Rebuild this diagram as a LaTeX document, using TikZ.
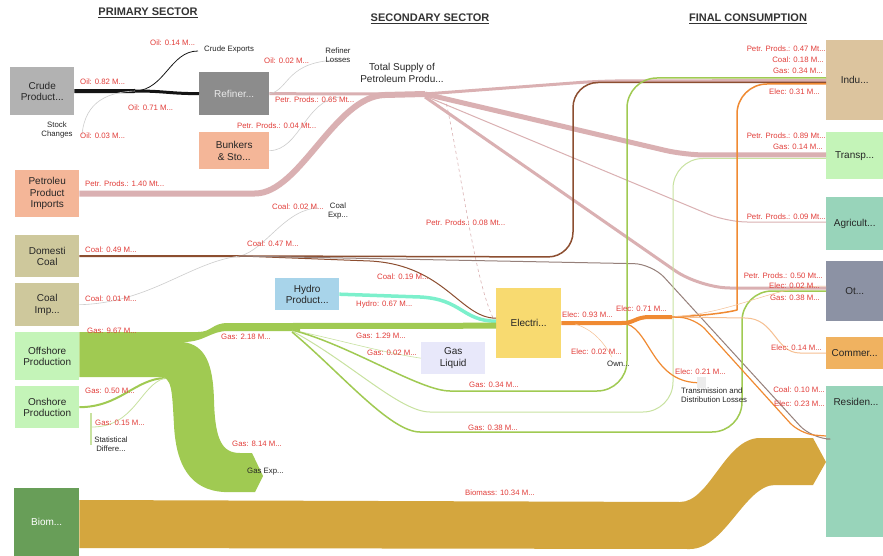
\documentclass[tikz,border=0pt]{standalone}
\usepackage{fontspec}
\setmainfont{Liberation Sans}
\usetikzlibrary{calc,positioning}

\definecolor{flowred}{RGB}{226,62,58}
\definecolor{crudegray}{RGB}{178,178,178}
\definecolor{refgray}{RGB}{140,140,140}
\definecolor{salmon}{RGB}{244,182,152}
\definecolor{coalbox}{RGB}{206,200,156}
\definecolor{gasbox}{RGB}{196,244,184}
\definecolor{biombox}{RGB}{104,158,88}
\definecolor{hydrobox}{RGB}{168,212,234}
\definecolor{elecbox}{RGB}{248,218,112}
\definecolor{liqbox}{RGB}{232,232,250}
\definecolor{indubox}{RGB}{220,196,158}
\definecolor{agribox}{RGB}{152,212,186}
\definecolor{othbox}{RGB}{140,146,164}
\definecolor{commbox}{RGB}{240,178,96}
\definecolor{oilblack}{RGB}{20,20,20}
\definecolor{petpink}{RGB}{218,176,178}
\definecolor{coalbrown}{RGB}{140,78,48}
\definecolor{coalgray}{RGB}{150,128,122}
\definecolor{gasgreen}{RGB}{160,202,82}
\definecolor{gaslight}{RGB}{200,226,160}
\definecolor{elecorange}{RGB}{240,138,50}
\definecolor{eleclight}{RGB}{246,192,146}
\definecolor{hydroflow}{RGB}{124,240,204}
\definecolor{biomflow}{RGB}{212,166,62}
\definecolor{faint}{RGB}{205,205,205}
\definecolor{tdlgray}{RGB}{236,236,236}

\begin{document}
\begin{tikzpicture}[
          x=1pt, y=-1pt,
          box/.style = {rectangle, anchor=north west, inner sep=1pt, align=center, text=black!85, font=\fontsize{10}{11.5}\selectfont},
          lbl/.style = {inner sep=0pt, text=flowred, font=\fontsize{7.8}{9}\selectfont},
          note/.style = {inner sep=0pt, align=center, text=black!85, font=\fontsize{7.8}{9}\selectfont},
          hdr/.style = {text=black!80, font=\bfseries\fontsize{11}{12}\selectfont},
          flow/.style = {line cap=butt, line join=round}
        ]

        \useasboundingbox (0,0) rectangle (883,556);
        \fill[white] (0,0) rectangle (883,556);

        % boxes
        \node[box, fill=crudegray, minimum width=64pt, minimum height=48pt] (crude) at (10,67) {Crude\\Product...};
        \node[box, fill=salmon, minimum width=64pt, minimum height=47pt] (pimp) at (15,170) {Petroleu\\Product\\Imports};
        \node[box, fill=coalbox, minimum width=64pt, minimum height=42pt] (dcoal) at (15,235) {Domesti\\Coal};
        \node[box, fill=coalbox, minimum width=64pt, minimum height=43pt] (icoal) at (15,283) {Coal\\Imp...};
        \node[box, fill=gasbox, minimum width=64pt, minimum height=48pt] (offsh) at (15,332) {Offshore\\Production};
        \node[box, fill=gasbox, minimum width=64pt, minimum height=42pt] (onsh) at (15,386) {Onshore\\Production};
        \node[box, fill=biombox, text=white, minimum width=65pt, minimum height=68pt] (biom) at (14,488) {Biom...};
        \node[box, fill=refgray, text=white!92!black, minimum width=70pt, minimum height=43pt] (refin) at (199,72) {Refiner...};
        \node[box, fill=salmon, minimum width=70pt, minimum height=37pt] (bunk) at (199,132) {Bunkers\\\& Sto...};
        \node[box, fill=hydrobox, minimum width=64pt, minimum height=32pt] (hydro) at (275,278) {Hydro\\Product...};
        \node[box, fill=liqbox, minimum width=64pt, minimum height=32pt] (gliq) at (421,342) {Gas\\Liquid};
        \node[box, fill=elecbox, minimum width=65pt, minimum height=70pt] (elec) at (496,288) {Electri...};
        \node[box, fill=indubox, minimum width=57pt, minimum height=80pt] (indu) at (826,40) {Indu...};
        \node[box, fill=gasbox, minimum width=57pt, minimum height=47pt] (transp) at (826,132) {Transp...};
        \node[box, fill=agribox, minimum width=57pt, minimum height=53pt] (agri) at (826,197) {Agricult...};
        \node[box, fill=othbox, minimum width=57pt, minimum height=60pt] (oth) at (826,261) {Ot...};
        \node[box, fill=commbox, minimum width=57pt, minimum height=32pt] (comm) at (826,337) {Commer...};
        \node[box, fill=agribox, minimum width=57pt, minimum height=151pt] (res) at (826,386) {};
        \node[box, anchor=center, fill=none] (restxt) at (856,402) {Residen...};
        \node[fill=tdlgray, inner sep=0pt, anchor=north west, minimum width=9pt, minimum height=11pt] (tdl) at (697,377) {};
        \node[fill=gaslight, inner sep=0pt, minimum width=1.5pt, minimum height=32pt] (sdiff) at (91,429) {};

        % junctions
        \coordinate (oiljn) at (135,91);
        \coordinate (tsup) at (425,94);
        \coordinate (coaljn) at (240,256);
        \coordinate (gjn) at (292,326);
        \coordinate (onjn) at (165,378);
        \coordinate (ejn) at (622,323);
        \coordinate (ejn2) at (672,317);

        % petroleum
        \draw[flow, draw=petpink, line width=6pt] (pimp.east) -- (255,193.5) .. controls (300,193.5) and (335,96) .. (385,95) -- (tsup);
        \draw[flow, draw=petpink, line width=3pt] (refin.east) -- (tsup);
        \draw[flow, draw=faint, line width=0.6pt] (bunk.east) .. controls (300,150) and (305,100) .. (340,97);
        \draw[flow, draw=petpink, line width=3pt, rounded corners=20pt] (tsup) -- (600,81) -- (indu.west |- 0,80.5);
        \draw[flow, draw=petpink, line width=5pt, rounded corners=20pt] (tsup) -- (685,155) -- (transp.west |- 0,155);
        \draw[flow, draw=petpink, line width=1pt, rounded corners=20pt] ($(tsup)+(0,2)$) -- (727,222) -- (agri.west |- 0,222);
        \draw[flow, draw=petpink, line width=3pt, rounded corners=30pt] ($(tsup)+(0,3)$) -- (700,288) -- (oth.west |- 0,288);
        \draw[flow, draw=petpink, line width=0.6pt, dashed] ($(tsup)+(20,4)$) .. controls (460,160) and (475,290) .. (elec.west);

        % oil
        \draw[flow, draw=oilblack, line width=4pt] (crude.east) -- (oiljn);
        \draw[flow, draw=oilblack, line width=0.8pt] (oiljn) .. controls (165,90) and (170,51) .. (198,51);
        \draw[flow, draw=oilblack, line width=3pt] (oiljn) .. controls (165,91) and (168,93.5) .. (refin.west);
        \draw[flow, draw=faint, line width=0.6pt] (82,135) .. controls (85,100) and (110,92) .. (oiljn);
        \draw[flow, draw=faint, line width=0.6pt] (refin.east) .. controls (290,90) and (285,60) .. (342,60);

        % coal
        \draw[flow, draw=coalbrown, line width=2pt] (dcoal.east) -- (coaljn);
        \draw[flow, draw=faint, line width=0.6pt] (icoal.east) .. controls (150,303) and (190,262) .. (coaljn);
        \draw[flow, draw=faint, line width=0.6pt] (coaljn) .. controls (265,250) and (285,209) .. (318,208);
        \draw[flow, draw=coalbrown, line width=1.5pt, rounded corners=25pt] (coaljn) -- (573,257) -- (573,82.5) -- (indu.west |- 0,82.5);
        \draw[flow, draw=coalbrown, line width=1pt] (coaljn) -- (370,261) .. controls (445,265) and (460,318) .. ($(elec.west)+(0,-5)$);
        \draw[flow, draw=coalgray, line width=1pt, rounded corners=18pt] (coaljn) -- (652,264) -- (812,439) -- (res.west |- 0,439);

        % hydro
        \draw[flow, draw=hydroflow, line width=3.5pt] (hydro.east) -- (420,297) .. controls (462,299) and (462,321) .. ($(elec.west)+(0,-2)$);

        % gas
        \fill[gasgreen] (offsh.north east) -- (198,332) .. controls (212,332) and (212,323) .. (228,323) -- (300,323) -- (300,331) -- (228,331) .. controls (210,331) and (205,342) .. (183,342) .. controls (206,345) and (213,365) .. (214,400) .. controls (215,440) and (222,453) .. (240,453) -- (252,453) -- (263,476) -- (255,492) -- (224,492) .. controls (190,490) and (176,465) .. (174,425) .. controls (172,390) and (172,377) .. (160,377) -- ($(offsh.north east)+(0,45)$) -- cycle;
        \draw[flow, draw=gasgreen, line width=6pt] (gjn) -- ($(elec.west)+(0,2.5)$);
        \draw[flow, draw=gaslight, line width=0.6pt] ($(gjn)+(0,4)$) .. controls (340,340) and (380,352) .. (gliq.west);
        \draw[flow, draw=gasgreen, line width=1.5pt, rounded corners=30pt] ($(gjn)+(0,4)$) .. controls (350,345) and (420,391) .. (480,391) -- (627,391) -- (627,78) -- (indu.west |- 0,78);
        \draw[flow, draw=gaslight, line width=1pt, rounded corners=30pt] ($(gjn)+(0,5)$) .. controls (350,362) and (400,412) .. (460,412) -- (673,412) -- (673,158.5) -- (transp.west |- 0,158.5);
        \draw[flow, draw=gasgreen, line width=1.5pt, rounded corners=30pt] ($(gjn)+(0,6)$) .. controls (340,372) and (390,432) .. (450,432) -- (742,432) -- (742,291) -- (oth.west |- 0,291);
        \draw[flow, draw=gasgreen, line width=2pt] (onsh.east) .. controls (120,407) and (135,379) .. (onjn);
        \draw[flow, draw=gaslight, line width=0.8pt] (onjn) .. controls (140,385) and (135,427) .. (sdiff.east |- 0,427);

        % biomass
        \fill[biomflow] (biom.east |- 0,500) -- (680,502) .. controls (710,502) and (725,438) .. (760,438) -- (813,438) -- (826,462) -- (813,485) -- (775,485) .. controls (745,485) and (725,549) .. (690,549) -- (biom.east |- 0,548) -- cycle;

        % electricity
        \draw[flow, draw=elecorange, line width=4pt] (elec.east) -- (ejn) .. controls (635,323) and (635,317) .. (650,317) -- (ejn2);
        \draw[flow, draw=eleclight, line width=0.5pt] (575,324) .. controls (595,330) and (605,345) .. (612,357);
        \draw[flow, draw=elecorange, line width=1.2pt] (ejn) .. controls (650,325) and (650,381) .. (tdl.west);
        \draw[flow, draw=elecorange, line width=1.5pt, rounded corners=30pt] (ejn2) .. controls (720,315) and (737,310) .. (737,280) -- (737,84) -- (indu.west |- 0,84);
        \draw[flow, draw=eleclight, line width=1pt] (ejn2) -- (745,318) .. controls (775,318) and (775,353) .. (800,353) -- (comm.west);
        \draw[flow, draw=elecorange, line width=1.2pt, rounded corners=15pt] (ejn2) -- (695,318) -- (800,434) -- (res.west |- 0,436);
        \draw[flow, draw=eleclight, line width=0.5pt] (ejn2) .. controls (740,312) and (770,286) .. (oth.west |- 0,286);

        % headers
        \node[hdr] (hprim) at (148,13) {\underline{PRIMARY SECTOR}};
        \node[hdr] (hsec) at (430,19) {\underline{SECONDARY SECTOR}};
        \node[hdr] (hfin) at (748,19) {\underline{FINAL CONSUMPTION}};

        % black texts
        \node[note, anchor=west] (cexp) at (204,49) {Crude Exports};
        \node[note] (stock) at (57,130) {Stock\\Changes};
        \node[note] (rloss) at (338,55) {Refiner\\Losses};
        \node[note, font=\fontsize{10}{11.5}\selectfont] (tsuptxt) at (402,73) {Total Supply of\\Petroleum Produ...};
        \node[note] (cxp) at (338,211) {Coal\\Exp...};
        \node[note] (sdtxt) at (111,444) {Statistical\\Differe...};
        \node[note, anchor=west] (gexp) at (247,472) {Gas Exp...};
        \node[note, anchor=west] (own) at (607,364) {Own...};
        \node[note, anchor=west, align=left] (tdltxt) at (681,395) {Transmission and\\Distribution Losses};

        % red labels
        \node[lbl, anchor=west] (lo82) at (80,82) {Oil: 0.82 M...};
        \node[lbl, anchor=west] (lo14) at (150,43) {Oil: 0.14 M...};
        \node[lbl, anchor=west] (lo71) at (128,108) {Oil: 0.71 M...};
        \node[lbl, anchor=west] (lo03) at (80,136) {Oil: 0.03 M...};
        \node[lbl, anchor=west] (lo02) at (264,61) {Oil: 0.02 M...};
        \node[lbl, anchor=west] (lp65) at (275,100) {Petr. Prods.: 0.65 Mt...};
        \node[lbl, anchor=west] (lp04) at (237,126) {Petr. Prods.: 0.04 Mt...};
        \node[lbl, anchor=west] (lp140) at (85,184) {Petr. Prods.: 1.40 Mt...};
        \node[lbl, anchor=west] (lp08) at (426,223) {Petr. Prods.: 0.08 Mt...};
        \node[lbl, anchor=west] (lc02) at (272,207) {Coal: 0.02 M...};
        \node[lbl, anchor=west] (lc49) at (85,250) {Coal: 0.49 M...};
        \node[lbl, anchor=west] (lc47) at (247,244) {Coal: 0.47 M...};
        \node[lbl, anchor=west] (lc01) at (85,299) {Coal: 0.01 M...};
        \node[lbl, anchor=west] (lc19) at (377,277) {Coal: 0.19 M...};
        \node[lbl, anchor=west] (lh67) at (356,304) {Hydro: 0.67 M...};
        \node[lbl, anchor=west] (lg967) at (87,331) {Gas: 9.67 M...};
        \node[lbl, anchor=west] (lg218) at (221,337) {Gas: 2.18 M...};
        \node[lbl, anchor=west] (lg129) at (356,336) {Gas: 1.29 M...};
        \node[lbl, anchor=west] (lg002) at (367,353) {Gas: 0.02 M...};
        \node[lbl, anchor=west] (lg050) at (85,391) {Gas: 0.50 M...};
        \node[lbl, anchor=west] (lg015) at (95,423) {Gas: 0.15 M...};
        \node[lbl, anchor=west] (lg814) at (232,444) {Gas: 8.14 M...};
        \node[lbl, anchor=west] (lg034) at (469,385) {Gas: 0.34 M...};
        \node[lbl, anchor=west] (lg038) at (468,428) {Gas: 0.38 M...};
        \node[lbl, anchor=west] (le093) at (562,315) {Elec: 0.93 M...};
        \node[lbl, anchor=west] (le071) at (616,309) {Elec: 0.71 M...};
        \node[lbl, anchor=west] (le002) at (571,352) {Elec: 0.02 M...};
        \node[lbl, anchor=west] (le021) at (675,372) {Elec: 0.21 M...};
        \node[lbl] (lbio) at (500,493) {Biomass: 10.34 M...};
        \node[lbl, anchor=east] (ri047) at (826,49) {Petr. Prods.: 0.47 Mt...};
        \node[lbl, anchor=east] (ric018) at (824,60) {Coal: 0.18 M...};
        \node[lbl, anchor=east] (rig034) at (823,71) {Gas: 0.34 M...};
        \node[lbl, anchor=east] (rie031) at (820,92) {Elec: 0.31 M...};
        \node[lbl, anchor=east] (rt089) at (826,136) {Petr. Prods.: 0.89 Mt...};
        \node[lbl, anchor=east] (rtg014) at (823,147) {Gas: 0.14 M...};
        \node[lbl, anchor=east] (ra009) at (826,217) {Petr. Prods.: 0.09 Mt...};
        \node[lbl, anchor=east] (ro050) at (823,276) {Petr. Prods.: 0.50 Mt...};
        \node[lbl, anchor=east] (roe002) at (820,286) {Elec: 0.02 M...};
        \node[lbl, anchor=east] (rog038) at (820,298) {Gas: 0.38 M...};
        \node[lbl, anchor=east] (rce014) at (822,348) {Elec: 0.14 M...};
        \node[lbl, anchor=east] (rrc010) at (825,390) {Coal: 0.10 M...};
        \node[lbl, anchor=east] (rre023) at (825,404) {Elec: 0.23 M...};
      \end{tikzpicture}
\end{document}
